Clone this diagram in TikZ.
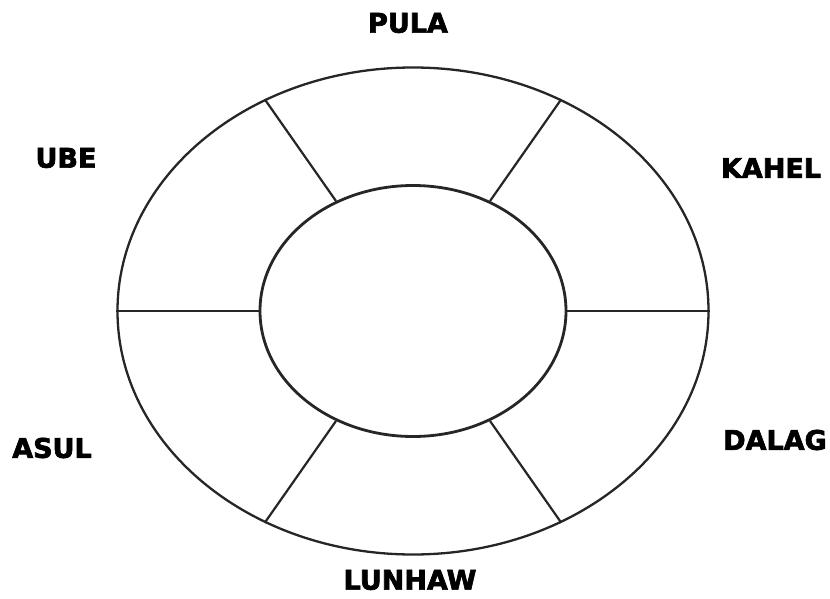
\documentclass[tikz,border=0pt]{standalone}
\usepackage{fontspec}
\setmainfont{DejaVu Sans}[BoldFeatures={FakeBold=2.5}]
\usepackage{tikz}
\usetikzlibrary{shapes.geometric}
\tikzset{
  ring/.style={draw=black!85,ellipse,inner sep=0pt,line width=2.3pt},
  spoke/.style={draw=black!85,line width=2.2pt},
  colorlabel/.style={font=\fontsize{27}{30}\selectfont\bfseries,inner sep=0pt},
}
\begin{document}
\begin{tikzpicture}[x=1pt,y=-1pt]
  \useasboundingbox (0,0) rectangle (830,599);
  % wheel
  \node[ring,minimum width=591pt,minimum height=487pt] (outer) at (413,311) {};
  \node[ring,line width=2.8pt,minimum width=306pt,minimum height=251pt] (inner) at (413,311) {};
  % spokes between the two rings
  \foreach \ang in {0,55,125,180,235,305}
    \draw[spoke] (inner.\ang) -- (outer.\ang);
  % colour names
  \node[colorlabel] (pula)   at (408,23)  {PULA};
  \node[colorlabel] (ube)    at (66,158)  {UBE};
  \node[colorlabel] (kahel)  at (771,168) {KAHEL};
  \node[colorlabel] (asul)   at (52,448)  {ASUL};
  \node[colorlabel] (dalag)  at (775,440) {DALAG};
  \node[colorlabel] (lunhaw) at (410,580) {LUNHAW};
\end{tikzpicture}
\end{document}
